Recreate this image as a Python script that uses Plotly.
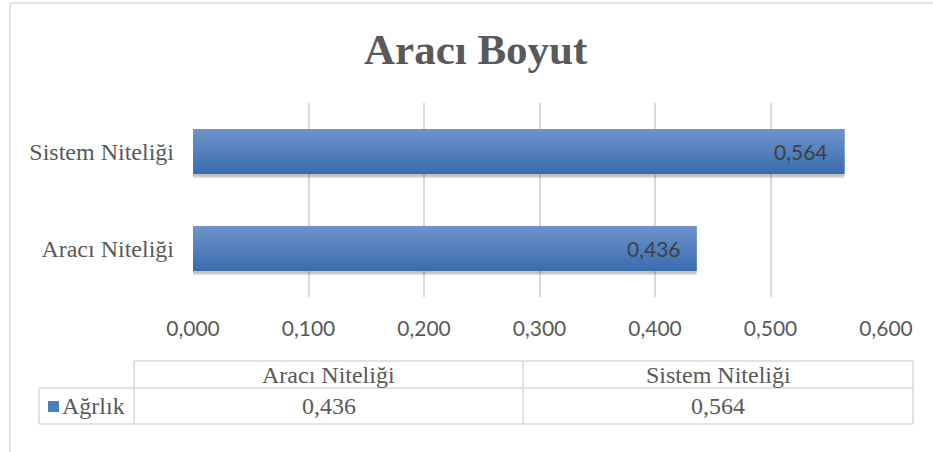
import plotly.graph_objects as go

# ---- data ----
title_text = "Aracı Boyut"
categories = ["Aracı Niteliği", "Sistem Niteliği"]
values = [0.436, 0.564]
series_name = "Ağrlık"
tick_vals = [0.0, 0.1, 0.2, 0.3, 0.4, 0.5, 0.6]

W, H = 933, 452
L, R, T, B = 193, 886, 103, 297  # plot area in px


def px(x):
    return (x - L) / (R - L)


def py(y):
    return (B - y) / (B - T)


def fmt(v):
    return f"{v:.3f}".replace(".", ",")


fig = go.Figure()

# gradient bars built from thin stripes
bar_w = 0.464
N = 44
top = (110, 148, 204)
bot = (58, 108, 174)
step = bar_w / N
# soft shadow
for k, a in enumerate([0.10, 0.14, 0.18]):
    fig.add_trace(go.Bar(
        x=values, y=categories, orientation="h", width=bar_w,
        offset=-bar_w / 2 - 0.045 + k * 0.01,
        marker=dict(color=f"rgba(90,90,90,{a})", line=dict(width=0)),
        hoverinfo="skip", showlegend=False))
for i in range(N):
    t = i / (N - 1)
    c = tuple(round(bot[k] + (top[k] - bot[k]) * t) for k in range(3))
    w = step * 2 if i < N - 1 else step
    fig.add_trace(go.Bar(
        x=values, y=categories, orientation="h",
        width=w, offset=-bar_w / 2 + i * step,
        marker=dict(color=f"rgb{c}", line=dict(width=0)),
        hoverinfo="skip", showlegend=False))

# data labels
for cat, v in zip(categories, values):
    fig.add_annotation(x=v, y=cat, xref="x", yref="y", text=fmt(v), showarrow=False,
                       xanchor="right", xshift=-14, yanchor="middle",
                       font=dict(family="Lato", size=21, color="#404040"))

shapes = []
grid = "#d9d9d9"


def hline(y, x0, x1):
    shapes.append(dict(type="line", xref="paper", yref="paper", x0=px(x0), x1=px(x1),
                       y0=py(y), y1=py(y), line=dict(color=grid, width=1.5)))


def vline(x, y0, y1):
    shapes.append(dict(type="line", xref="paper", yref="paper", x0=px(x), x1=px(x),
                       y0=py(y0), y1=py(y1), line=dict(color=grid, width=1.5)))


# outer chart border
vline(10, 3, 460)
hline(3, 10, 940)

# data table
hline(361, 134, 913)
hline(388, 39, 913)
hline(424, 39, 913)
vline(134, 361, 424)
vline(523, 361, 424)
vline(913, 361, 424)
vline(39, 388, 424)

col_centers = [328.5, 718]
serif = "Liberation Serif"
for cx, cat, v in zip(col_centers, categories, values):
    fig.add_annotation(x=px(cx), y=py(375), xref="paper", yref="paper", text=cat,
                       showarrow=False, xanchor="center", yanchor="middle",
                       font=dict(family=serif, size=24, color="#595959"))
    fig.add_annotation(x=px(cx), y=py(406), xref="paper", yref="paper", text=fmt(v),
                       showarrow=False, xanchor="center", yanchor="middle",
                       font=dict(family=serif, size=24, color="#595959"))

# legend key
shapes.append(dict(type="rect", xref="paper", yref="paper", x0=px(48), x1=px(59),
                   y0=py(412), y1=py(401), line=dict(width=0),
                   fillcolor="rgb(74,126,191)"))
fig.add_annotation(x=px(60), y=py(406), xref="paper", yref="paper", text=series_name,
                   showarrow=False, xanchor="left", yanchor="middle",
                   font=dict(family=serif, size=24, color="#595959"))

# title
fig.add_annotation(x=px(476), y=py(49), xref="paper", yref="paper", text=f"<b>{title_text}</b>",
                   showarrow=False, xanchor="center", yanchor="middle",
                   font=dict(family=serif, size=43, color="#595959"))

fig.update_layout(
    width=W, height=H,
    margin=dict(l=L, r=W - R, t=T, b=H - B, pad=0),
    paper_bgcolor="white", plot_bgcolor="white",
    barmode="overlay",
    separators=",.",
    shapes=shapes,
    showlegend=False,
    xaxis=dict(range=[0, 0.6], tickvals=tick_vals, ticktext=[fmt(v) for v in tick_vals],
               showgrid=True, gridcolor=grid, gridwidth=2, zeroline=False,
               showline=False, ticks="", ticklabelstandoff=17,
               tickfont=dict(family="Lato", size=21, color="#595959"), fixedrange=True),
    yaxis=dict(type="category", categoryorder="array", categoryarray=categories,
               range=[-0.5, 1.5], showgrid=False, zeroline=False, showline=False,
               ticks="", ticklabelstandoff=18,
               tickfont=dict(family=serif, size=24, color="#595959"), fixedrange=True),
)

fig.write_html("out.html", config={"displayModeBar": False},
               post_script="document.body.style.margin='0px';document.body.style.overflow='hidden';")
